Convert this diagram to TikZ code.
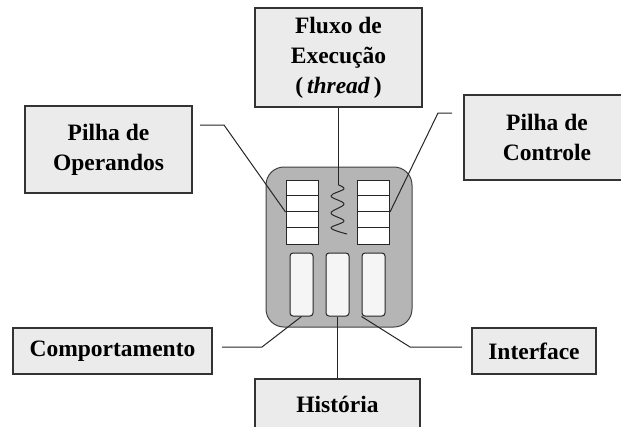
\documentclass[tikz,border=0pt]{standalone}
\usepackage{fontspec}
\setmainfont{Liberation Serif}
\tikzset{
  label box/.style={draw=black!80, line width=1.1pt, fill=black!8, align=center,
    font=\fontsize{23.5}{30}\selectfont\bfseries, inner sep=0pt},
  stack/.style={draw=black!85, line width=1pt, fill=white, inner sep=0pt,
    minimum width=32pt, minimum height=64pt},
  slot/.style={draw=black!85, line width=1pt, fill=black!4, inner sep=0pt,
    rounded corners=3pt, minimum width=23pt, minimum height=63pt},
  wire/.style={draw=black!85, line width=1pt}
}
\begin{document}
\begin{tikzpicture}[x=1pt,y=-1pt]
\useasboundingbox (0,0) rectangle (621,426);
\clip (0,0) rectangle (621,426);
\fill[white] (0,0) rectangle (621,426);

% caixas de rotulo
\node[label box, minimum width=167pt, minimum height=99pt] (fluxo) at (338.5,57.5)
  {Fluxo de\\Execução\\(\,\textit{thread}\,)};
\node[label box, minimum width=167pt, minimum height=87pt] (operandos) at (108.5,149.5)
  {Pilha de\\Operandos};
\node[label box, minimum width=166pt, minimum height=85pt] (controle) at (547,137.5)
  {Pilha de\\Controle};
\node[label box, minimum width=199pt, minimum height=46pt] (comport) at (112.5,351)
  {Comportamento};
\node[label box, minimum width=124pt, minimum height=46pt] (iface) at (534,351)
  {Interface};
\node[label box, minimum width=165pt, minimum height=50pt] (hist) at (337.5,404)
  {História};

% o agente
\node[draw=black!75, line width=1pt, fill=black!29, rounded corners=18pt,
  minimum width=146pt, minimum height=160pt] (agente) at (339,247) {};
\node[stack] (opstack) at (302,212) {};
\node[stack] (ctlstack) at (373.5,212) {};
\foreach \k in {1,2,3} {
  \draw[wire] (opstack.north west) ++(0,16*\k) -- ++(32,0);
  \draw[wire] (ctlstack.north west) ++(0,16*\k) -- ++(32,0);
}
\node[slot] (compcell) at (301.5,284.5) {};
\node[slot] (histcell) at (337.5,284.5) {};
\node[slot] (ifacecell) at (373.5,284.5) {};
\coordinate (springtop) at (338.5,185);
\draw[wire, line join=round] plot[smooth, tension=0.6] coordinates
  {(338.5,185) (344,189) (331,196) (344,204) (331,213) (344,221) (331,228) (347,234)};

% ligacoes
\coordinate (opend) at (200,125);
\coordinate (opbend) at (224,125);
\draw[wire] (opend) -- (opbend) -- (opstack.west);
\coordinate (ctlend) at (452,113);
\coordinate (ctlbend) at (438,113);
\draw[wire] (ctlend) -- (ctlbend) -- (ctlstack.east);
\draw[wire] (fluxo.south) -- (springtop);
\coordinate (compend) at (222,347);
\coordinate (compbend) at (262,347);
\draw[wire] (compend) -- (compbend) -- (compcell.south);
\draw[wire] (histcell.south) -- (hist.north);
\coordinate (ifaceend) at (462,347);
\coordinate (ifacebend) at (410,347);
\draw[wire] (ifaceend) -- (ifacebend) -- (ifacecell.south west);
\end{tikzpicture}
\end{document}
